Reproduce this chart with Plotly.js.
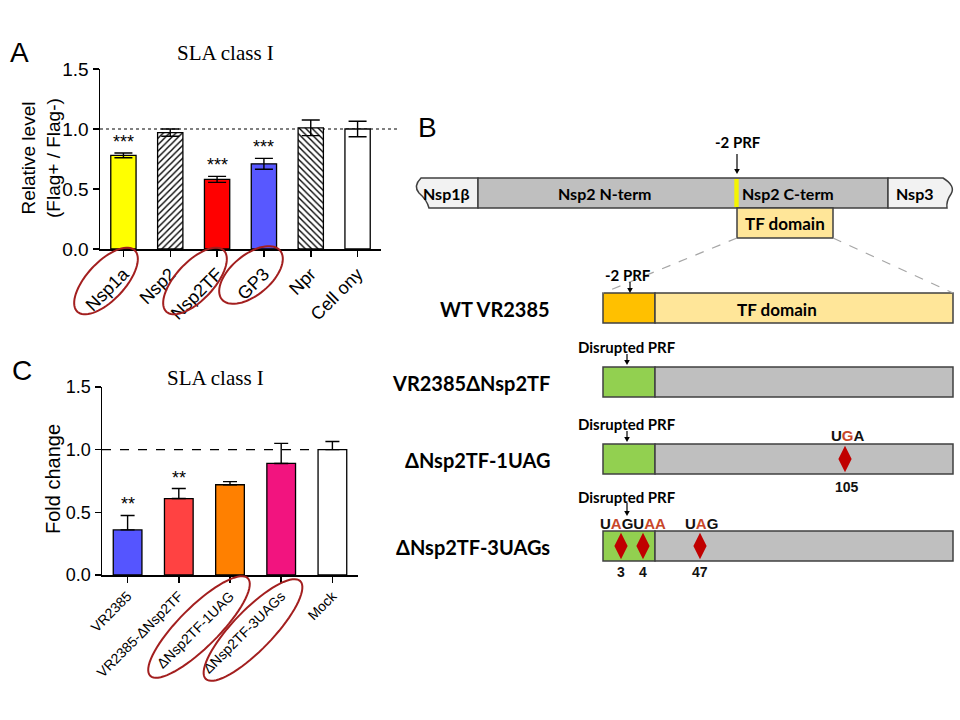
<!DOCTYPE html>
<html><head><meta charset="utf-8">
<script src="https://cdn.plot.ly/plotly-3.0.1.min.js"></script>
<style>html,body{margin:0;padding:0;background:#fff}#chart{width:960px;height:720px}</style>
</head><body><div id="chart"></div>
<script>
// ---------- Panel A data ----------
const catsA = ['Nsp1a', 'Nsp2', 'Nsp2TF', 'GP3', 'Npr', 'Cell ony'];
const valsA = [0.78, 0.97, 0.58, 0.71, 1.01, 1.00];
const errA  = [0.02, 0.03, 0.025, 0.045, 0.065, 0.065];
const sigA  = ['***', '', '***', '***', '', ''];
const circledA = ['Nsp1a', 'Nsp2TF', 'GP3'];

// ---------- Panel C data ----------
const catsC = ['VR2385', 'VR2385-ΔNsp2TF', 'ΔNsp2TF-1UAG', 'ΔNsp2TF-3UAGs', 'Mock'];
const valsC = [0.36, 0.61, 0.72, 0.89, 1.00];
const errC  = [0.115, 0.08, 0.025, 0.16, 0.065];
const sigC  = ['**', '**', '', '', ''];
const circledC = ['ΔNsp2TF-1UAG', 'ΔNsp2TF-3UAGs'];

// ---------- Panel B data (schematic) ----------
const topDomains = ['Nsp1β', 'Nsp2 N-term', 'Nsp2 C-term', 'Nsp3'];
const constructs = ['WT VR2385', 'VR2385ΔNsp2TF', 'ΔNsp2TF-1UAG', 'ΔNsp2TF-3UAGs'];
const stopCodons1 = ['105'];
const stopCodons3 = ['3', '4', '47'];

// ---------- styles ----------
const colorsA = ['#ffff00', '#ffffff', '#ff0000', '#5858ff', '#ffffff', '#ffffff'];
const patternA = ['', '/', '', '', '\\', ''];
const colorsC = ['#5555ff', '#ff4242', '#ff8000', '#f2147f', '#ffffff'];
const RED = '#c00000', RED_TXT = '#c8472a', ELL = '#a31f1f';
const W = 960, H = 720;
const px = x => x / W, py = y => 1 - y / H;

function ellipse(cx, cy, a, b, ang) {
  const A = ang * Math.PI / 180; let p = '';
  for (let i = 0; i <= 72; i++) {
    const t = i / 72 * 2 * Math.PI;
    const x = cx + a * Math.cos(t) * Math.cos(A) - b * Math.sin(t) * Math.sin(A);
    const y = cy + a * Math.cos(t) * Math.sin(A) + b * Math.sin(t) * Math.cos(A);
    p += (i ? ' L ' : 'M ') + px(x).toFixed(5) + ',' + py(y).toFixed(5);
  }
  return p + ' Z';
}
const ellA = {'Nsp1a': [106, 281, 42, 19, -47], 'Nsp2TF': [195, 281, 42, 19, -47], 'GP3': [251, 275, 38, 20, -40]};
const ellC = {'ΔNsp2TF-1UAG': [199, 627, 69, 20, -45], 'ΔNsp2TF-3UAGs': [253, 630, 68, 20, -46]};

const traces = [];
const errStyleA = {color: '#000', thickness: 1.4, width: 9};
catsA.forEach((c, i) => {
  const m = {color: colorsA[i], line: {color: '#000', width: 1.3}};
  if (patternA[i]) m.pattern = {shape: patternA[i], fgcolor: '#000', bgcolor: '#ffffff', size: 4.5, solidity: 0.3, fillmode: 'replace'};
  traces.push({type: 'bar', x: [c], y: [valsA[i]], xaxis: 'x', yaxis: 'y', width: 0.54, marker: m,
    error_y: Object.assign({type: 'data', array: [errA[i]], visible: true}, errStyleA)});
});
traces.push({type: 'bar', x: catsC, y: valsC, xaxis: 'x2', yaxis: 'y2', width: 0.56,
   marker: {color: colorsC, line: {color: '#000', width: 1.3}},
   error_y: {type: 'data', symmetric: false, array: errC, arrayminus: errC.map(() => 0), visible: true, color: '#000', thickness: 1.4, width: 7}});

// Panel B geometry (schematic placement, in panel units)
const G = {
  top: {y0: 178, y1: 208, seg: [[418, 478], [478, 736], [736, 888], [888, 952]], tf: [737, 833, 208, 238], prf: 736.5},
  rows: [293, 367, 444, 531], rowH: 30, x0: 603, xs: 655, x1: 953, labelX: 552,
  dia1: [845], dia3: [621, 643, 700]
};

const shapes = [];
const ann = [];
shapes.push({type: 'line', xref: 'paper', yref: 'y', x0: px(100), x1: px(400), y0: 1, y1: 1, layer: 'below', line: {color: '#808080', width: 2.2, dash: 'dot'}});
shapes.push({type: 'line', xref: 'paper', yref: 'y2', x0: px(102), x1: px(352), y0: 1, y1: 1, layer: 'below', line: {color: '#000', width: 1.2, dash: 'dash'}});
circledA.forEach(c => shapes.push({type: 'path', xref: 'paper', yref: 'paper', path: ellipse(...ellA[c]), line: {color: ELL, width: 2}}));
circledC.forEach(c => shapes.push({type: 'path', xref: 'paper', yref: 'paper', path: ellipse(...ellC[c]), line: {color: ELL, width: 2}}));

const sans = 'Arial, Liberation Sans, sans-serif';
sigA.forEach((s, i) => { if (s) ann.push({xref: 'x', yref: 'y', x: catsA[i], y: valsA[i] + errA[i], text: s, showarrow: false, yanchor: 'bottom', yshift: -1, font: {family: sans, size: 18, color: '#000'}}); });
sigC.forEach((s, i) => { if (s) ann.push({xref: 'x2', yref: 'y2', x: catsC[i], y: valsC[i] + errC[i], text: s, showarrow: false, yanchor: 'bottom', yshift: -1, font: {family: sans, size: 18, color: '#000'}}); });

function pann(x, y, text, font, extra) {
  ann.push(Object.assign({xref: 'paper', yref: 'paper', x: px(x), y: py(y), xanchor: 'center', yanchor: 'middle', text, showarrow: false, font}, extra || {}));
}
const serif = 'Liberation Serif, Times New Roman, serif';
pann(225, 53, 'SLA class I', {family: serif, size: 21, color: '#000'});
pann(215, 378, 'SLA class I', {family: serif, size: 21, color: '#000'});
pann(19, 53, 'A', {family: sans, size: 28, color: '#000'});
pann(22, 371, 'C', {family: sans, size: 28, color: '#000'});
pann(427, 127, 'B', {family: sans, size: 28, color: '#000'});
pann(41, 158, 'Relative level<br>(Flag+ / Flag-)', {family: sans, size: 19, color: '#000'}, {textangle: -90});
pann(53, 479, 'Fold change', {family: sans, size: 20, color: '#000'}, {textangle: -90});

// ---------- Panel B ----------
const bx = 'x3', by = 'y3';
const OUT = {color: '#404040', width: 1.5};
const bold = 'Lato, Open Sans, sans-serif';
function rect(x0, x1, y0, y1, fill, line) { shapes.push({type: 'rect', xref: bx, yref: by, x0, x1, y0, y1, fillcolor: fill, line: line || OUT, layer: 'below'}); }
function txt(x, y, t, size, opts) { ann.push(Object.assign({xref: bx, yref: by, x, y, text: t, showarrow: false, font: {family: bold, size, color: '#000', weight: 700}}, opts || {})); }
function arrow(x, y0, y1) {
  shapes.push({type: 'line', xref: bx, yref: by, x0: x, x1: x, y0, y1: y1 - 4, line: {color: '#000', width: 1.2}});
  shapes.push({type: 'path', xref: bx, yref: by, path: `M ${x - 2.8},${y1 - 5} L ${x + 2.8},${y1 - 5} L ${x},${y1} Z`, fillcolor: '#000', line: {width: 0}});
}
const T = G.top;
shapes.push({type: 'path', xref: bx, yref: by, fillcolor: '#f2f2f2', line: OUT, layer: 'below',
  path: `M ${T.seg[0][1]},${T.y0} L 421,${T.y0} Q 413,186 419,193 Q 427,200 429,${T.y1} L ${T.seg[0][1]},${T.y1} Z`});
rect(T.seg[1][0], T.seg[2][1], T.y0, T.y1, '#bfbfbf');
shapes.push({type: 'rect', xref: bx, yref: by, x0: T.prf - 2.2, x1: T.prf + 2.2, y0: T.y0 + 1, y1: T.y1 - 1, fillcolor: '#f4f400', line: {width: 0}, layer: 'below'});
shapes.push({type: 'path', xref: bx, yref: by, fillcolor: '#f2f2f2', line: OUT, layer: 'below',
  path: `M ${T.seg[3][0]},${T.y0} L 943,${T.y0} Q 956,186 951,194 Q 946,201 947,${T.y1} L ${T.seg[3][0]},${T.y1} Z`});
rect(T.tf[0], T.tf[1], T.tf[2], T.tf[3], '#ffe699');
txt(446, 193, topDomains[0], 16);
txt(605, 193, topDomains[1], 16);
txt(788, 193, topDomains[2], 16);
txt(915, 193, topDomains[3], 16);
txt((T.tf[0] + T.tf[1]) / 2, 223, 'TF domain', 17);
txt(738, 142, '-2 PRF', 15);
arrow(737, 154, 174);
shapes.push({type: 'line', xref: bx, yref: by, x0: T.tf[0], y0: T.tf[3], x1: G.x0, y1: G.rows[0], line: {color: '#a6a6a6', width: 1.2, dash: 'dash'}});
shapes.push({type: 'line', xref: bx, yref: by, x0: T.tf[1], y0: T.tf[3], x1: G.x1, y1: G.rows[0], line: {color: '#a6a6a6', width: 1.2, dash: 'dash'}});

G.rows.forEach((y0, i) => {
  const y1 = y0 + G.rowH;
  rect(G.x0, G.xs, y0, y1, i === 0 ? '#ffc000' : '#92d050');
  rect(G.xs, G.x1, y0, y1, i === 0 ? '#ffe699' : '#bfbfbf');
  txt(G.labelX, y0 + G.rowH / 2 + 1, constructs[i], 20, {xanchor: 'right'});
  if (i === 0) { txt(628, y0 - 18, '-2 PRF', 15); arrow(630, y0 - 11, y0); txt(777, y0 + 16, 'TF domain', 17); }
  else { txt(627, y0 - (i === 3 ? 34 : 20), 'Disrupted PRF', 15); arrow(627, y0 - (i === 3 ? 28 : 13), y0 - (i === 3 ? 15 : 2)); }
});
const r = s => `<span style="color:${RED_TXT}">${s}</span>`;
const codonFont = {family: sans, size: 15, color: '#111', weight: 700};
const numFont = {family: sans, size: 14, color: '#111', weight: 700};
ann.push({xref: bx, yref: by, x: G.dia1[0] + 3, y: G.rows[2] - 9, text: 'U' + r('G') + 'A', showarrow: false, font: codonFont});
ann.push({xref: bx, yref: by, x: G.dia1[0] + 2, y: G.rows[2] + G.rowH + 13, text: stopCodons1[0], showarrow: false, font: numFont});
ann.push({xref: bx, yref: by, x: 633, y: G.rows[3] - 8, text: 'U' + r('A') + 'GU' + r('AA'), showarrow: false, font: codonFont});
ann.push({xref: bx, yref: by, x: 701, y: G.rows[3] - 8, text: 'U' + r('A') + 'G', showarrow: false, font: codonFont});
G.dia3.forEach((x, k) => ann.push({xref: bx, yref: by, x: x, y: G.rows[3] + G.rowH + 11, text: stopCodons3[k], showarrow: false, font: numFont}));

traces.push({type: 'scatter', mode: 'markers', xaxis: 'x3', yaxis: 'y3',
  x: G.dia1.concat(G.dia3),
  y: [G.rows[2] + G.rowH / 2].concat(G.dia3.map(() => G.rows[3] + G.rowH / 2)),
  marker: {symbol: 'diamond-tall', size: 19, color: RED, line: {width: 0}}, showlegend: false});

const axBase = {showline: true, linecolor: '#000', linewidth: 1.5, ticks: 'outside', ticklen: 6, tickwidth: 1.5, tickcolor: '#000', showgrid: false, zeroline: false, fixedrange: true};
const layout = {
  width: W, height: H, margin: {l: 0, r: 0, t: 0, b: 0}, paper_bgcolor: '#fff', plot_bgcolor: 'rgba(0,0,0,0)',
  showlegend: false, hovermode: false, barmode: 'overlay',
  font: {family: sans, color: '#000'},
  xaxis: Object.assign({}, axBase, {domain: [px(100), px(381)], anchor: 'y', range: [-0.5, 5.5], type: 'category', categoryorder: 'array', categoryarray: catsA, tickangle: -45, tickfont: {family: sans, size: 18}}),
  yaxis: Object.assign({}, axBase, {domain: [py(249), py(69)], anchor: 'x', range: [0, 1.5], tickvals: [0, 0.5, 1, 1.5], ticktext: ['0.0', '0.5', '1.0', '1.5'], tickfont: {family: sans, size: 19}}),
  xaxis2: Object.assign({}, axBase, {domain: [px(102), px(358)], anchor: 'y2', range: [-0.5, 4.5], type: 'category', tickangle: -45, tickfont: {family: sans, size: 14}}),
  yaxis2: Object.assign({}, axBase, {domain: [py(575), py(387)], anchor: 'x2', range: [0, 1.5], tickvals: [0, 0.5, 1, 1.5], ticktext: ['0.0', '0.5', '1.0', '1.5'], tickfont: {family: sans, size: 18}}),
  xaxis3: {domain: [px(400), 1], anchor: 'y3', range: [400, 960], visible: false, fixedrange: true},
  yaxis3: {domain: [0, 1], anchor: 'x3', range: [720, 0], visible: false, fixedrange: true},
  shapes: shapes, annotations: ann
};
Plotly.newPlot('chart', traces, layout, {staticPlot: true, displayModeBar: false});
</script></body></html>
